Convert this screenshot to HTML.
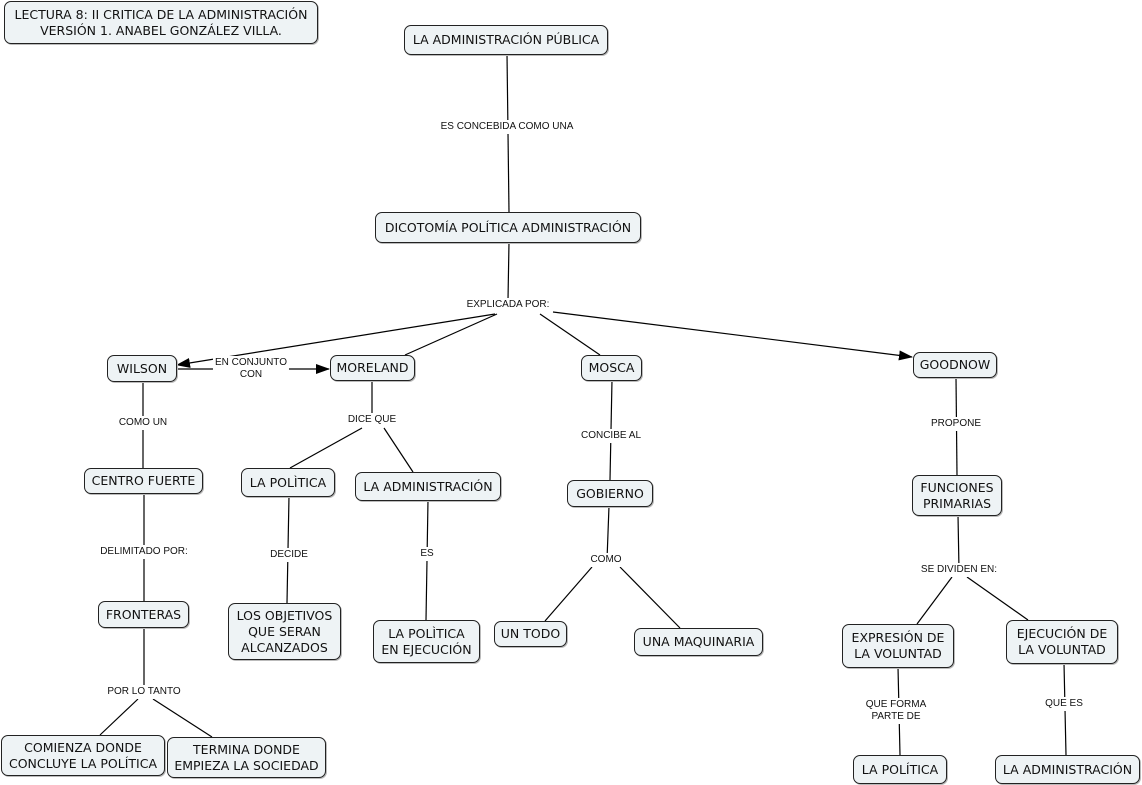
<!DOCTYPE html>
<html><head><meta charset="utf-8"><style>
html,body{margin:0;padding:0;background:#fff;}
body{width:1142px;height:785px;position:relative;overflow:hidden;}
.n{position:absolute;box-sizing:border-box;border:1px solid #222;border-radius:7px;background:#eef3f5;display:flex;align-items:center;justify-content:center;text-align:center;font-family:"DejaVu Sans","Liberation Sans",sans-serif;font-size:12.5px;color:#111;line-height:16px;white-space:nowrap;box-shadow:1px 1px 0 #bbb;}
.l{position:absolute;transform:translate(-50%,-50%);font-family:"Liberation Sans",sans-serif;font-size:10px;color:#111;background:#fff;text-align:center;line-height:12px;white-space:nowrap;padding:1px 2px;}
svg{position:absolute;left:0;top:0;}
</style></head><body>
<svg width="1142" height="785" viewBox="0 0 1142 785">
<defs><marker id="a" markerWidth="14" markerHeight="10" refX="13" refY="5" orient="auto" markerUnits="userSpaceOnUse"><path d="M0,0 L14,5 L0,10 z" fill="#000"/></marker></defs>
<g stroke="#000" stroke-width="1.2" fill="none">
<line x1="507" y1="54" x2="509" y2="212"/>
<line x1="509" y1="242" x2="508" y2="300"/>
<line x1="495" y1="314" x2="177" y2="365" marker-end="url(#a)"/>
<line x1="497" y1="314" x2="405" y2="355"/>
<line x1="540" y1="314" x2="600" y2="355"/>
<line x1="553" y1="312" x2="912" y2="357" marker-end="url(#a)"/>
<line x1="177" y1="369" x2="329" y2="369" marker-end="url(#a)"/>
<line x1="143" y1="381" x2="143" y2="468"/>
<line x1="372" y1="380" x2="372" y2="420"/>
<line x1="362" y1="428" x2="290" y2="468"/>
<line x1="384" y1="428" x2="413" y2="472"/>
<line x1="612" y1="380" x2="610" y2="480"/>
<line x1="956" y1="377" x2="957" y2="475"/>
<line x1="144" y1="493" x2="144" y2="601"/>
<line x1="289" y1="496" x2="287" y2="603"/>
<line x1="428" y1="500" x2="426" y2="620"/>
<line x1="609" y1="506" x2="607" y2="560"/>
<line x1="592" y1="567" x2="545" y2="621"/>
<line x1="620" y1="567" x2="680" y2="628"/>
<line x1="958" y1="515" x2="959" y2="570"/>
<line x1="952" y1="577" x2="917" y2="624"/>
<line x1="967" y1="577" x2="1028" y2="620"/>
<line x1="144" y1="627" x2="144" y2="692"/>
<line x1="138" y1="699" x2="100" y2="735"/>
<line x1="153" y1="699" x2="212" y2="737"/>
<line x1="898" y1="667" x2="900" y2="755"/>
<line x1="1064" y1="663" x2="1066" y2="755"/>
</g></svg>

<div class="n" style="left:4px;top:1px;width:314px;height:43px;">LECTURA 8: II CRITICA DE LA ADMINISTRACIÓN<br>VERSIÓN 1. ANABEL GONZÁLEZ VILLA.</div>
<div class="n" style="left:404px;top:25px;width:204px;height:30px;">LA ADMINISTRACIÓN PÚBLICA</div>
<div class="n" style="left:375px;top:212px;width:266px;height:31px;">DICOTOMÍA POLÍTICA ADMINISTRACIÓN</div>
<div class="n" style="left:107px;top:355px;width:70px;height:27px;">WILSON</div>
<div class="n" style="left:330px;top:355px;width:85px;height:26px;">MORELAND</div>
<div class="n" style="left:581px;top:355px;width:61px;height:26px;">MOSCA</div>
<div class="n" style="left:913px;top:352px;width:84px;height:26px;">GOODNOW</div>
<div class="n" style="left:84px;top:468px;width:119px;height:26px;">CENTRO FUERTE</div>
<div class="n" style="left:241px;top:468px;width:94px;height:29px;">LA POLÌTICA</div>
<div class="n" style="left:355px;top:472px;width:146px;height:29px;">LA ADMINISTRACIÓN</div>
<div class="n" style="left:567px;top:480px;width:86px;height:27px;">GOBIERNO</div>
<div class="n" style="left:912px;top:475px;width:90px;height:41px;">FUNCIONES<br>PRIMARIAS</div>
<div class="n" style="left:98px;top:601px;width:91px;height:27px;">FRONTERAS</div>
<div class="n" style="left:228px;top:603px;width:113px;height:57px;">LOS OBJETIVOS<br>QUE SERAN<br>ALCANZADOS</div>
<div class="n" style="left:373px;top:620px;width:107px;height:43px;">LA POLÌTICA<br>EN EJECUCIÓN</div>
<div class="n" style="left:494px;top:621px;width:73px;height:26px;">UN TODO</div>
<div class="n" style="left:634px;top:628px;width:129px;height:28px;">UNA MAQUINARIA</div>
<div class="n" style="left:842px;top:624px;width:112px;height:44px;">EXPRESIÓN DE<br>LA VOLUNTAD</div>
<div class="n" style="left:1006px;top:620px;width:112px;height:44px;">EJECUCIÓN DE<br>LA VOLUNTAD</div>
<div class="n" style="left:1px;top:735px;width:164px;height:41px;">COMIENZA DONDE<br>CONCLUYE LA POLÍTICA</div>
<div class="n" style="left:167px;top:737px;width:159px;height:41px;">TERMINA DONDE<br>EMPIEZA LA SOCIEDAD</div>
<div class="n" style="left:853px;top:755px;width:94px;height:29px;">LA POLÍTICA</div>
<div class="n" style="left:995px;top:755px;width:145px;height:29px;">LA ADMINISTRACIÓN</div>

<div class="l" style="left:507px;top:127px;">ES CONCEBIDA COMO UNA</div>
<div class="l" style="left:508px;top:305px;">EXPLICADA POR:</div>
<div class="l" style="left:251px;top:369px;">EN CONJUNTO<br>CON</div>
<div class="l" style="left:143px;top:423px;">COMO UN</div>
<div class="l" style="left:372px;top:420px;">DICE QUE</div>
<div class="l" style="left:611px;top:436px;">CONCIBE AL</div>
<div class="l" style="left:956px;top:424px;">PROPONE</div>
<div class="l" style="left:144px;top:552px;">DELIMITADO POR:</div>
<div class="l" style="left:289px;top:555px;">DECIDE</div>
<div class="l" style="left:427px;top:554px;">ES</div>
<div class="l" style="left:606px;top:560px;">COMO</div>
<div class="l" style="left:959px;top:570px;">SE DIVIDEN EN:</div>
<div class="l" style="left:144px;top:692px;">POR LO TANTO</div>
<div class="l" style="left:896px;top:711px;">QUE FORMA<br>PARTE DE</div>
<div class="l" style="left:1064px;top:704px;">QUE ES</div>
</body></html>
